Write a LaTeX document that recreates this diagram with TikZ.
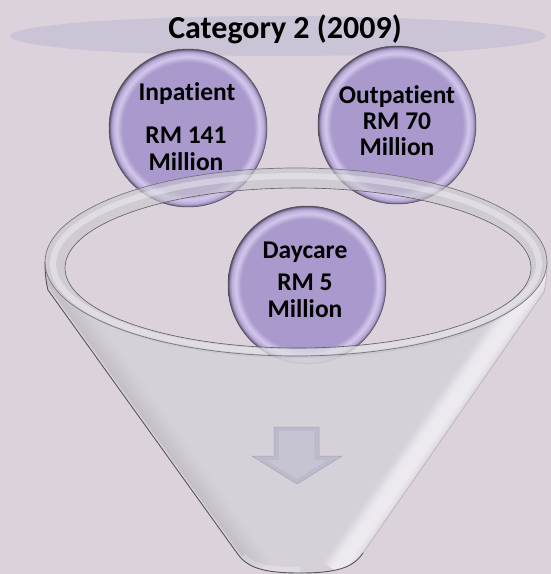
\documentclass[tikz,border=0pt]{standalone}
\usepackage{fontspec}
\setmainfont{Carlito}[Ligatures={NoCommon,NoRequired,NoContextual}]
\definecolor{bgc}{HTML}{DBD2DC}
\definecolor{bandc}{HTML}{CBC3D6}
\definecolor{bubC}{HTML}{A999CC}
\definecolor{bubL}{HTML}{D2C7EA}
\definecolor{bubM}{HTML}{B9ABD9}
\definecolor{bubE}{HTML}{8B80A3}
\definecolor{bubD}{HTML}{4F4A5A}
\definecolor{bodyc}{HTML}{D6D1D8}
\definecolor{shadc}{HTML}{B3AFB7}
\definecolor{hilc}{HTML}{F2EFF4}
\definecolor{ringc}{HTML}{C9C7CD}
\definecolor{edgec}{HTML}{55525A}
\definecolor{arrc}{HTML}{BDBACB}
\definecolor{arrl}{HTML}{C6C3D3}
\definecolor{arrd}{HTML}{A8A4B7}
\pgfdeclareradialshading{bubble}{\pgfpoint{0bp}{0bp}}{color(0bp)=(bubC); color(20.8bp)=(bubC); color(22.6bp)=(bubL); color(23.9bp)=(bubM); color(24.6bp)=(bubE); color(25bp)=(bubD); color(50bp)=(bubD)}
\tikzset{
  bubble/.style={circle, minimum size=158pt, inner sep=0pt, shading=bubble, draw=bubD, line width=0.5pt},
  lbl/.style={anchor=base, font=\fontsize{25.5}{25.5}\selectfont\bfseries, text=black, inner sep=0pt},
  ttl/.style={anchor=base, font=\fontsize{32}{32}\selectfont\bfseries, text=black, inner sep=0pt},
  strip/.style={line width=2.7pt, line cap=butt},
}
\begin{document}
\begin{tikzpicture}[x=1pt,y=1pt]
\useasboundingbox (0,0) rectangle (551,-574);
\fill[bgc] (0,0) rectangle (551,-574);
% title band
\fill[bandc] (278,-36) ellipse[x radius=268pt, y radius=20pt];
\node[ttl] (title) at (285,-38) {Category 2 (2009)};
% bubbles
\node[bubble] (inp) at (188,-128) {};
\node[bubble] (outp) at (397,-125) {};
\node[bubble] (day) at (307,-285) {};
\node[lbl] (inp1) at (187,-100) {Inpatient};
\node[lbl] (inp2) at (186,-143) {RM 141};
\node[lbl] (inp3) at (186,-170) {Million};
\node[lbl] (outp1) at (397,-103) {Outpatient};
\node[lbl] (outp2) at (397,-129) {RM 70};
\node[lbl] (outp3) at (397,-155) {Million};
\node[lbl] (day1) at (305,-258) {Daycare};
\node[lbl] (day2) at (305,-290) {RM 5};
\node[lbl] (day3) at (305,-317) {Million};
% funnel body
\def\conepath{(45,-262) .. controls (45,-274) and (46,-282) .. (48,-290) -- (237,-553) .. controls (247,-568) and (264,-573) .. (300,-573) .. controls (336,-573) and (353,-568) .. (363,-553) -- (544,-292) .. controls (546,-282) and (547,-274) .. (547,-262) arc[start angle=0,end angle=-180,x radius=251pt,y radius=94pt] -- cycle}
\fill[bodyc, fill opacity=0.9] \conepath;
\begin{scope}
\clip \conepath;
% left shadow strip (parallel strokes)
\draw[strip, white, opacity=0.35] (30,-266) -- (252,-575);
\foreach \d/\o in {4/0.45,6.5/0.40,9/0.33,11.5/0.26,14/0.19,16.5/0.13,19/0.08,21.5/0.04}
  \draw[strip, shadc, opacity=\o, shift={({\d*0.812},{\d*0.584})}] (30,-266) -- (252,-575);
% right light strip
\foreach \d/\o in {1.5/0.35,4/0.6,6.5/0.8,9/0.85,11.5/0.85,14/0.85,16.5/0.8,19/0.7,21.5/0.5,24/0.3,26.5/0.12}
  \draw[strip, hilc, opacity=\o, shift={({-\d*0.822},{\d*0.570})}] (561,-267) -- (346,-578);
% shadow under the opening
\draw[black, opacity=0.05, line width=10pt] (298,-273) ellipse[x radius=233pt, y radius=80pt];
% light bottom
\draw[white, opacity=0.25, line width=6pt] (243,-556) .. controls (252,-567) and (266,-570) .. (300,-570);
\end{scope}
\draw[edgec, line width=0.9pt] (45,-262) .. controls (45,-274) and (46,-282) .. (48,-290) -- (237,-553) .. controls (247,-568) and (264,-573) .. (300,-573) .. controls (336,-573) and (353,-568) .. (363,-553);
\draw[edgec!45, line width=0.6pt] (363,-553) -- (544,-292) .. controls (546,-282) and (547,-274) .. (547,-262);
% rim
\fill[ringc, fill opacity=0.6, even odd rule] (296,-262) ellipse[x radius=251pt, y radius=94pt] (298,-268) ellipse[x radius=233pt, y radius=80pt];
\begin{scope}[even odd rule]
\clip (296,-262) ellipse[x radius=251pt, y radius=94pt] (298,-268) ellipse[x radius=233pt, y radius=80pt];
\draw[white, opacity=0.35, line width=6pt] (296,-264) ellipse[x radius=243pt, y radius=88pt];
\end{scope}
\draw[edgec!80, line width=0.7pt] (296,-262) ellipse[x radius=251pt, y radius=94pt];
\draw[edgec!95, line width=0.6pt] (298,-268) ellipse[x radius=233pt, y radius=80pt];
% arrow
\fill[arrc, draw=arrd, line width=0.5pt] (274,-427) -- (319,-427) -- (319,-456) -- (342,-456) -- (297,-484) -- (252,-456) -- (274,-456) -- cycle;
\fill[arrl] (279,-431) -- (314,-431) -- (314,-460) -- (328,-460) -- (297,-479) -- (266,-460) -- (279,-460) -- cycle;
\node[inner sep=0pt] (arrow) at (297,-456) {};
\end{tikzpicture}
\end{document}
